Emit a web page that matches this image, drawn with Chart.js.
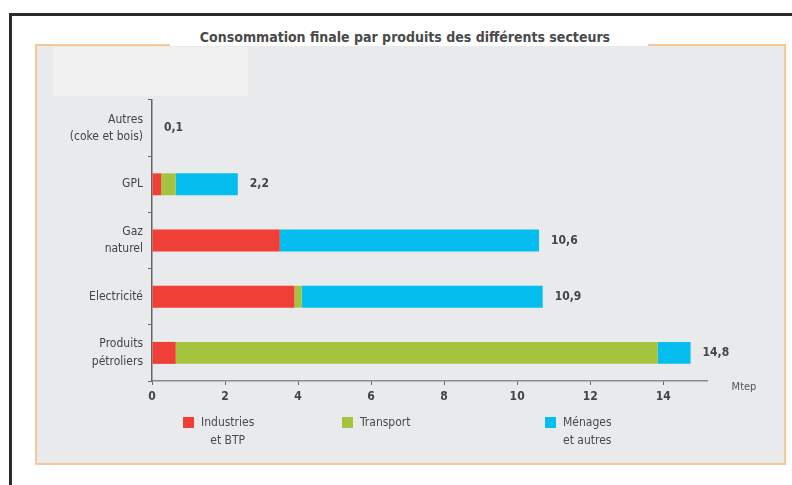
<!DOCTYPE html>
<html>
<head>
<meta charset="utf-8">
<script src="https://cdn.jsdelivr.net/npm/chart.js@4.4.1/dist/chart.umd.min.js"></script>
<style>
  html, body { margin: 0; padding: 0; background: #fff; }
  #wrap { position: relative; width: 792px; height: 485px; overflow: hidden; }
  #frame { position: absolute; left: 9px; top: 13px; width: 800px; height: 500px;
    border-left: 3px solid #2a2a2a; border-top: 3px solid #2a2a2a; }
  #panel { position: absolute; left: 35px; top: 44px; width: 747px; height: 417px;
    background: #e9eaec; border: 2px solid #f6c896; }
  #gap { position: absolute; left: 170px; top: 42px; width: 478px; height: 4px; background: #fff; }
  #blank { position: absolute; left: 53px; top: 47px; width: 195px; height: 49px; background: #f1f1f2; }
  #title { position: absolute; left: 0; width: 810px; top: 29px; text-align: center;
    font: bold 14px "Liberation Sans Narrow", "DejaVu Sans Condensed", sans-serif; color: #4a4a4a; }
  canvas { position: absolute; left: 0; top: 0; }
</style>
</head>
<body>
<div id="wrap">
  <div id="frame"></div>
  <div id="panel"></div>
  <div id="gap"></div>
  <div id="blank"></div>
  <div id="title">Consommation finale par produits des différents secteurs</div>
  <canvas id="chart" width="792" height="485"></canvas>
</div>
<script>
const FONT = '"Liberation Sans Narrow", "DejaVu Sans Condensed", sans-serif';

// categories, top to bottom
const categories = [
  ["Autres", "(coke et bois)"],
  "GPL",
  ["Gaz", "naturel"],
  "Electricité",
  ["Produits", "pétroliers"],
];
// Mtep per sector
const industries = [0, 0.25, 3.5, 3.9, 0.65];
const transport = [0, 0.4, 0, 0.2, 13.2];
const menages = [0, 1.7, 7.1, 6.6, 0.9];
// totals written at the end of each bar
const totals = [0.1, 2.2, 10.6, 10.9, 14.8];
const seriesLabels = [["Industries", "et BTP"], ["Transport"], ["Ménages", "et autres"]];
const seriesColors = ["#ef3f37", "#a5c33f", "#05bdee"];
const xTicks = [0, 2, 4, 6, 8, 10, 12, 14];

const totalLabels = {
  id: "totalLabels",
  afterDatasetsDraw(chart) {
    const { ctx, scales } = chart;
    ctx.save();
    ctx.font = "bold 12px " + FONT;
    ctx.fillStyle = "#444";
    ctx.textBaseline = "middle";
    ctx.textAlign = "left";
    categories.forEach((c, i) => {
      let sum = 0;
      chart.data.datasets.forEach((ds) => (sum += ds.data[i]));
      const x = scales.x.getPixelForValue(sum) + 12;
      const y = scales.y.getPixelForValue(i);
      ctx.fillText(totals[i].toFixed(1).replace(".", ","), x, y);
    });
    // unit
    ctx.font = "11px " + FONT;
    ctx.fillStyle = "#555";
    ctx.textAlign = "center";
    ctx.fillText("Mtep", 744, 387);
    ctx.restore();
  },
};

const bottomLegend = {
  id: "bottomLegend",
  afterDraw(chart) {
    const { ctx } = chart;
    const xs = [183, 342, 545];
    ctx.save();
    ctx.font = "12px " + FONT;
    ctx.textBaseline = "middle";
    chart.data.datasets.forEach((ds, i) => {
      ctx.fillStyle = ds.backgroundColor;
      ctx.fillRect(xs[i], 417, 11, 11);
      ctx.fillStyle = "#4a4a4a";
      const lines = seriesLabels[i];
      const w = ctx.measureText(lines[0]).width;
      const tx = xs[i] + 18;
      ctx.textAlign = "left";
      ctx.fillText(lines[0], tx, 423);
      if (lines[1]) {
        ctx.textAlign = "center";
        ctx.fillText(lines[1], tx + w / 2, 441);
      }
    });
    ctx.restore();
  },
};

const ctx = document.getElementById("chart").getContext("2d");
const chart = new Chart(ctx, {
  type: "bar",
  data: {
    labels: categories,
    datasets: [
      { label: seriesLabels[0].join(" "), data: industries, backgroundColor: seriesColors[0] },
      { label: seriesLabels[1].join(" "), data: transport, backgroundColor: seriesColors[1] },
      { label: seriesLabels[2].join(" "), data: menages, backgroundColor: seriesColors[2] },
    ],
  },
  options: {
    indexAxis: "y",
    responsive: false,
    animation: false,
    barPercentage: 0.39,
    categoryPercentage: 1,
    layout: { padding: { left: 0, top: 100, right: 85, bottom: 0 } },
    plugins: {
      legend: { display: false },
      tooltip: { enabled: false },
      title: { display: false },
    },
    scales: {
      x: {
        stacked: true,
        min: 0,
        max: 15.2,
        afterFit: (s) => { s.height = 104; },
        afterBuildTicks: (s) => { s.ticks = xTicks.map((v) => ({ value: v })); },
        border: { display: true, color: "#8a8a8a", width: 1.5 },
        grid: { display: true, drawOnChartArea: false, drawTicks: true, tickLength: 4, color: "#666" },
        ticks: { color: "#444", padding: 5, font: { family: FONT, size: 12, weight: "bold" } },
      },
      y: {
        stacked: true,
        afterFit: (s) => { s.width = 152; },
        border: { display: true, color: "#666", width: 1.5 },
        grid: { display: true, offset: true, drawOnChartArea: false, drawTicks: true, tickLength: 4, color: "#666" },
        ticks: { color: "#444", padding: 5, font: { family: FONT, size: 12, lineHeight: 1.45 } },
      },
    },
  },
  plugins: [totalLabels, bottomLegend],
});
</script>
</body>
</html>
